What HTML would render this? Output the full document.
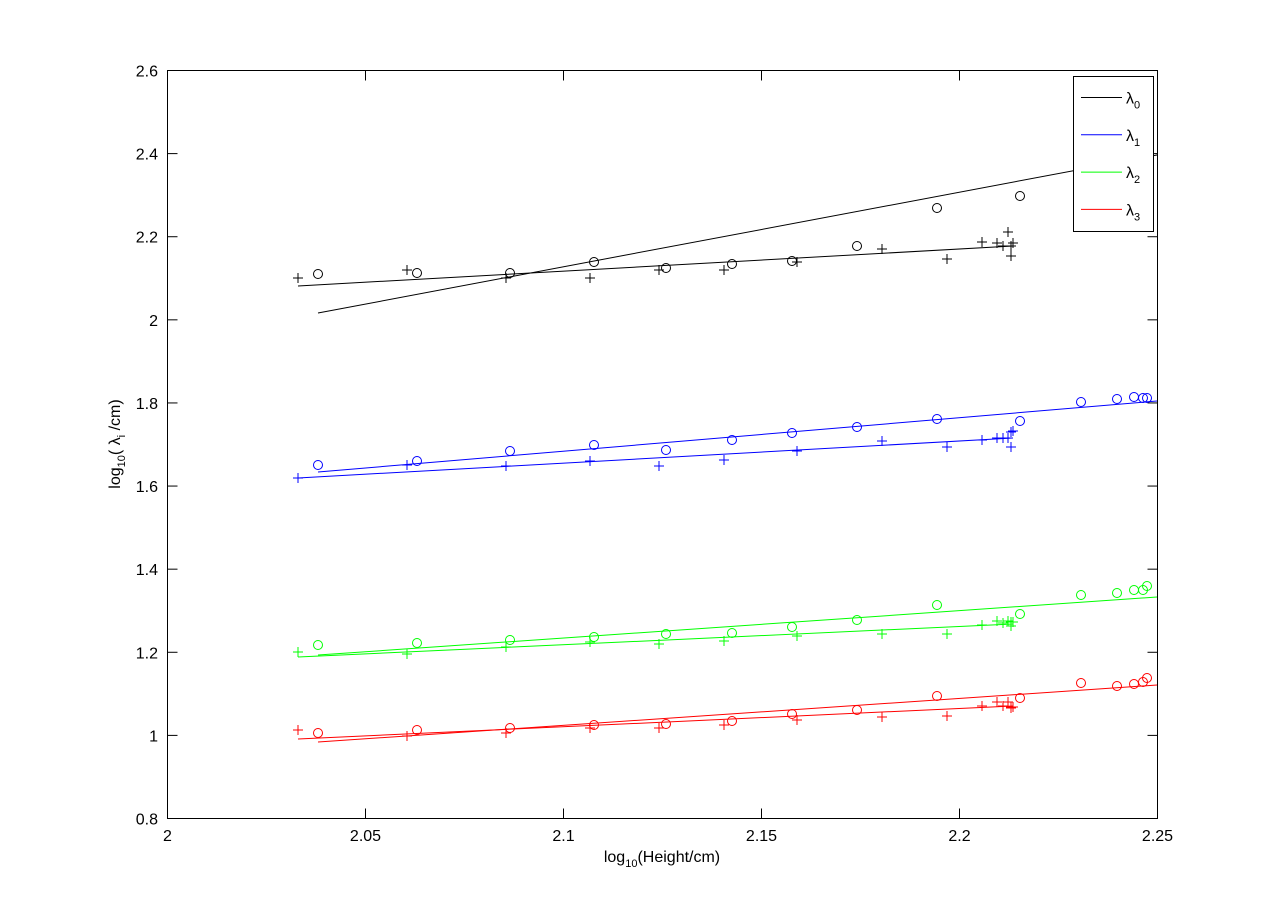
<!DOCTYPE html><html><head><style>body{margin:0;background:#fff}svg{display:block}text{font-family:"Liberation Sans",sans-serif;font-size:16px}</style></head><body>
<svg id="s" width="1281" height="920" xmlns="http://www.w3.org/2000/svg">
<rect x="0" y="0" width="1281" height="920" fill="#fff"/>
<rect x="167.5" y="70.5" width="990" height="748" fill="#fff" stroke="#000" stroke-width="1"/>
<g id="ticks" stroke="#000" stroke-width="1"></g>
<g id="tl" font-size="16"></g>
<g id="data"></g>
<text x="662" y="862" text-anchor="middle">log<tspan font-size="11" dy="5">10</tspan><tspan dy="-5">(Height/cm)</tspan></text>
<text transform="translate(120,444) rotate(-90)" text-anchor="middle">log<tspan font-size="11" dy="5">10</tspan><tspan dy="-5">( λ</tspan><tspan font-size="11" dy="5">i</tspan><tspan dy="-5"> /cm)</tspan></text>
<rect x="1073.5" y="76.5" width="80" height="155" fill="#fff" stroke="#000"/>
<g id="leg"></g>
</svg>
<script>
const NS="http://www.w3.org/2000/svg";
function el(p,t,a,txt){const e=document.createElementNS(NS,t);for(const k in a)e.setAttribute(k,a[k]);if(txt!=null)e.textContent=txt;p.appendChild(e);return e;}
const tk=document.getElementById('ticks'),tl=document.getElementById('tl');
const xs=['2','2.05','2.1','2.15','2.2','2.25'];
for(let i=0;i<6;i++){const x=167.5+i*198;
el(tk,'line',{x1:x,y1:818.5,x2:x,y2:808.5});el(tk,'line',{x1:x,y1:70.5,x2:x,y2:80.5});
el(tl,'text',{x:x,y:841,'text-anchor':'middle'},xs[i]);}
const ys=['2.6','2.4','2.2','2','1.8','1.6','1.4','1.2','1','0.8'];
for(let i=0;i<10;i++){const y=70.5+i*748/9;
el(tk,'line',{x1:167.5,y1:y,x2:177.5,y2:y});el(tk,'line',{x1:1157.5,y1:y,x2:1147.5,y2:y});
el(tl,'text',{x:158,y:y+6,'text-anchor':'end'},ys[i]);}
const cx=[318,417,510,594,666,732,792,857,937,1020,1081,1117,1134,1143,1147];
const px=[298,407,506,590,659,724,797,882,947,982,997,1003,1008,1011,1011,1013];
const S=[
{c:'#000',co:[274,273,273,262,268,264,261,246,208,196],cl:[318,313,1157,155],po:[278,270,278,278,270,270,262,249,259,242,243,246,232,246,256,243],pl:[298,286,1013,246]},
{c:'#00f',co:[465,461,451,445,450,440,433,427,419,421,402,399,397,398,398],cl:[318,472,1157,401],po:[478,465,466,461,466,460,451,441,447,440,438,438,438,447,432,431],pl:[298,478,1013,438]},
{c:'#0f0',co:[645,643,640,637,634,633,627,620,605,614,595,593,590,590,586],cl:[318,655,1157,597],po:[652,654,647,642,644,641,636,634,634,625,621,623,621,626,622,622],pl:[298,657,1013,624]},
{c:'#f00',co:[733,730,728,725,724,721,714,710,696,698,683,686,684,682,678],cl:[318,742,1157,685],po:[730,736,733,728,728,725,720,717,716,706,702,706,702,708,707,707],pl:[298,739,1013,706]}];
const d=document.getElementById('data');
S.forEach(s=>{
el(d,'line',{x1:s.cl[0],y1:s.cl[1],x2:s.cl[2],y2:s.cl[3],stroke:s.c});
el(d,'line',{x1:s.pl[0],y1:s.pl[1],x2:s.pl[2],y2:s.pl[3],stroke:s.c});
s.co.forEach((y,i)=>el(d,'circle',{cx:cx[i],cy:y,r:4.5,fill:'none',stroke:s.c}));
s.po.forEach((y,i)=>el(d,'path',{d:`M${px[i]-5} ${y}h10M${px[i]} ${y-5}v10`,stroke:s.c,fill:'none'}));
});
const lg=document.getElementById('leg');
S.forEach((s,i)=>{const y=97.5+i*37.3;
el(lg,'line',{x1:1081,y1:y,x2:1122,y2:y,stroke:s.c});
const t=el(lg,'text',{x:1126,y:y+6});t.textContent='λ';el(t,'tspan',{'font-size':'11',dy:'5'},String(i));});
</script>
</body></html>
